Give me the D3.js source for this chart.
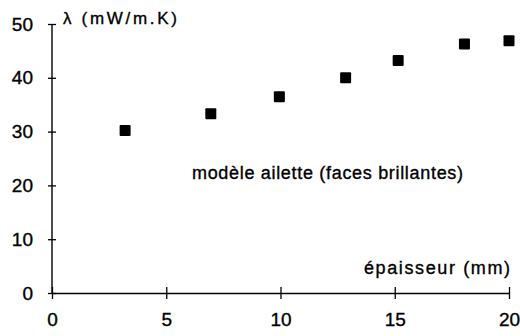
<!DOCTYPE html>
<html><head><meta charset="utf-8">
<script src="https://cdn.jsdelivr.net/npm/d3@7/dist/d3.min.js"></script>
<style>body{margin:0;background:#fff}svg{display:block}text{font-family:"Liberation Sans",Arial,sans-serif;fill:#000;stroke:#000;stroke-width:0.35px}</style>
</head><body><svg id="c" width="520" height="336"></svg>
<script>
const thickness = [3.2, 6.95, 9.95, 12.85, 15.15, 18.05, 20.0];
const lambda = [30.2, 33.3, 36.5, 40.0, 43.2, 46.3, 46.9];
const xTicks = [0, 5, 10, 15, 20];
const yTicks = [0, 10, 20, 30, 40, 50];
const yLabel = "λ  (mW/m.K)";
const xLabel = "épaisseur (mm)";
const note = "modèle ailette (faces brillantes)";

const svg = d3.select("#c");
const x = d3.scaleLinear().domain([0, 20]).range([52, 509]);
const y = d3.scaleLinear().domain([0, 50]).range([293, 24]);

const gx = svg.append("g").attr("transform", `translate(0,${y(0)})`)
  .call(d3.axisBottom(x).tickValues(xTicks).tickSize(6).tickSizeOuter(0).tickPadding(14));
gx.selectAll(".tick line").attr("y1", -6);
gx.select(".domain").attr("stroke-width", 1.4);
gx.selectAll("text").attr("font-size", 19).attr("font-family", "Liberation Sans, Arial, sans-serif").attr("fill", "#000");

const gy = svg.append("g").attr("transform", `translate(${x(0)},0)`)
  .call(d3.axisLeft(y).tickValues(yTicks).tickSize(4).tickSizeOuter(0).tickPadding(15));
gy.selectAll(".tick line").attr("x1", 4);
gy.select(".domain").attr("stroke-width", 1.4).attr("d", `M0,${y(50)}V${y(0)}`);
gy.selectAll("text").attr("font-size", 19).attr("font-family", "Liberation Sans, Arial, sans-serif").attr("fill", "#000");
svg.selectAll(".tick line").attr("stroke-width", 1.3);

const yl = svg.append("text").attr("x", 63).attr("y", 24).attr("font-size", 17).attr("textLength", 114);
yl.text(yLabel);
svg.append("text").attr("x", 364).attr("y", 274).attr("font-size", 18).attr("textLength", 146).text(xLabel);
svg.append("text").attr("x", 192).attr("y", 179).attr("font-size", 18).attr("textLength", 271).text(note);

const s = 11;
svg.append("g").selectAll("rect").data(thickness.map((t, i) => [t, lambda[i]])).join("rect")
  .attr("x", d => x(d[0]) - s / 2).attr("y", d => y(d[1]) - s / 2)
  .attr("width", s).attr("height", s).attr("rx", 1).attr("fill", "#000");
</script></body></html>
